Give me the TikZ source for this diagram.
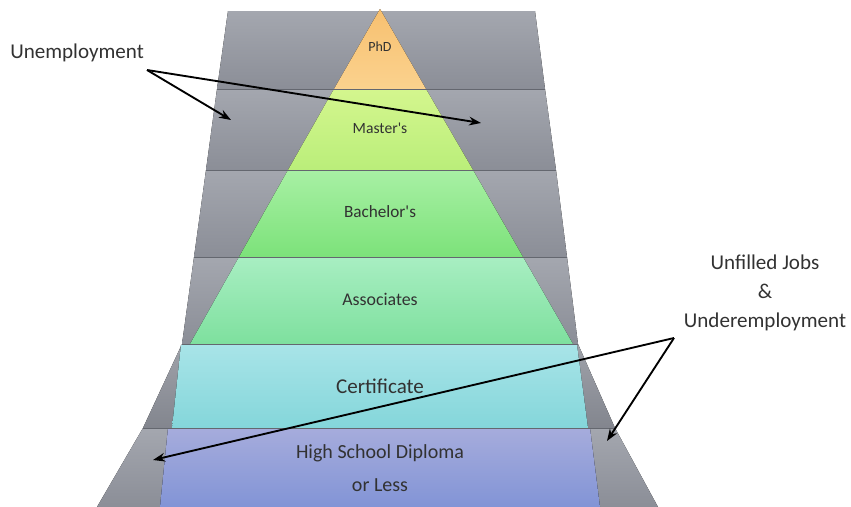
\documentclass[tikz,border=0pt]{standalone}
\usepackage{fontspec}
\setmainfont{Carlito}
\usetikzlibrary{arrows.meta}

\definecolor{slateTop}{RGB}{164,167,175}
\definecolor{slateBot}{RGB}{139,142,151}
\definecolor{slateLine}{RGB}{100,103,111}
\definecolor{inkgray}{RGB}{50,50,50}
\definecolor{phdTop}{RGB}{247,192,112}
\definecolor{phdBot}{RGB}{251,210,142}
\definecolor{mstTop}{RGB}{212,246,142}
\definecolor{mstBot}{RGB}{186,238,122}
\definecolor{bacTop}{RGB}{168,240,164}
\definecolor{bacBot}{RGB}{124,226,122}
\definecolor{assTop}{RGB}{168,238,194}
\definecolor{assBot}{RGB}{126,224,158}
\definecolor{cerTop}{RGB}{168,228,232}
\definecolor{cerBot}{RGB}{132,214,218}
\definecolor{hsdTop}{RGB}{166,172,220}
\definecolor{hsdBot}{RGB}{130,148,214}

\tikzset{
	slab/.style={top color=slateTop, bottom color=slateBot},
	wideslab/.style={top color=slateTop!97!black, bottom color=slateBot!94!black},
	seam/.style={draw=slateLine, line width=0.6pt},
	tier/.style={text=inkgray, inner sep=0pt},
	callout/.style={text=inkgray, align=center, inner sep=0pt,
		font=\fontsize{15.8}{21.5}\selectfont},
	pointer/.style={draw=black, line width=1.4pt,
		-{Stealth[length=9pt,width=6.5pt]}},
}

\begin{document}
\begin{tikzpicture}[x=0.75pt,y=0.75pt,yscale=-1,xscale=1]
\useasboundingbox (0,0) rectangle (851,507);

% grey panels behind the pyramid
\fill[slab] (228,11) -- (535,11) -- (545,89) -- (217,89) -- cycle;
\fill[slab] (217,89) -- (545,89) -- (556,170) -- (206,170) -- cycle;
\fill[slab] (206,170) -- (556,170) -- (567,257) -- (194,257) -- cycle;
\fill[slab] (194,257) -- (567,257) -- (578,344) -- (182,344) -- cycle;
\fill[wideslab] (182,344) -- (578,344) -- (615,428) -- (143,428) -- cycle;
\fill[slab] (143,428) -- (615,428) -- (658,507) -- (97,507) -- cycle;

% pyramid levels
\fill[top color=phdTop, bottom color=phdBot] (380,9) -- (426,89) -- (334,89) -- cycle;
\fill[top color=mstTop, bottom color=mstBot] (334,89) -- (426,89) -- (473,170) -- (288,170) -- cycle;
\fill[top color=bacTop, bottom color=bacBot] (288,170) -- (473,170) -- (523,257) -- (239,257) -- cycle;
\fill[top color=assTop, bottom color=assBot] (239,257) -- (523,257) -- (573,344) -- (190,344) -- cycle;
\fill[top color=cerTop, bottom color=cerBot] (181,345) -- (577,345) -- (588,428) -- (172,428) -- cycle;
\fill[top color=hsdTop, bottom color=hsdBot] (168,428) -- (590,428) -- (600,507) -- (160,507) -- cycle;

% seams between the levels
\draw[seam] (217,89) -- (545,89);
\draw[seam] (206,170) -- (556,170);
\draw[seam] (194,257) -- (567,257);
\draw[seam] (182,344.5) -- (578,344.5);
\draw[seam] (143,428) -- (615,428);

\node[tier, font=\fontsize{10.5}{12}\selectfont] (phd) at (380,47) {PhD};
\node[tier, font=\fontsize{11.7}{14}\selectfont] (masters) at (380,128) {Master\textquotesingle s};
\node[tier, font=\fontsize{12.9}{15}\selectfont] (bachelors) at (380,212) {Bachelor\textquotesingle s};
\node[tier, font=\fontsize{13.4}{16}\selectfont] (associates) at (380,299) {Associates};
\node[tier, font=\fontsize{15.8}{18}\selectfont] (certificate) at (380,386) {Certificate};
\node[tier, align=center, font=\fontsize{15}{24.5}\selectfont] (highschool) at (380,468) {High School Diploma\\or Less};

% side labels and arrows
\node[callout, anchor=base west] (unemp) at (10,58) {Unemployment};
\node[callout] (jobs) at (765,293) {Unfilled Jobs\\\&\\Underemployment};

\coordinate (unempFork) at (147,70);
\coordinate (unempLeft) at (231,120);
\coordinate (unempRight) at (481,123);
\coordinate (jobsFork) at (674,338);
\coordinate (jobsLeft) at (153,460);
\coordinate (jobsRight) at (607,441);

\draw[pointer] (unempFork) -- (unempLeft);
\draw[pointer] (unempFork) -- (unempRight);
\draw[pointer] (jobsFork) -- (jobsLeft);
\draw[pointer] (jobsFork) -- (jobsRight);
\end{tikzpicture}
\end{document}
